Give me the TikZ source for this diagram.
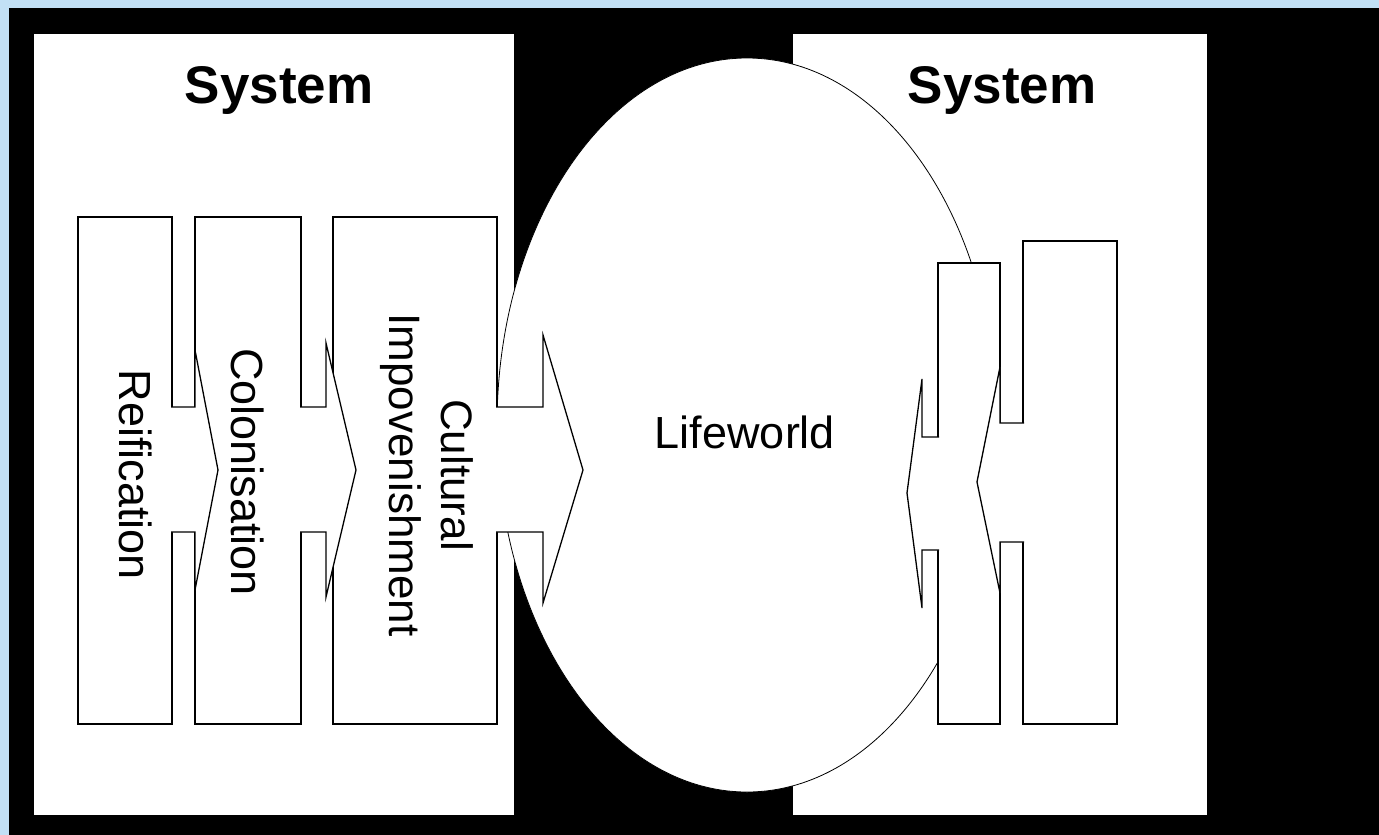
\documentclass[tikz,border=0pt]{standalone}
\usepackage{fontspec}
\setmainfont{Liberation Sans}
\usepackage{tikz}
\definecolor{skyblue}{rgb}{0.76, 0.88, 0.96}

\begin{document}
\begin{tikzpicture}[x=1pt, y=-1pt,
		bar/.style={draw=black, fill=white, line width=1.5pt},
		blockarrow/.style={draw=black, fill=white, line width=1.3pt, line join=miter},
		txt/.style={font=\fontsize{45}{52}\selectfont, align=center, inner sep=0pt},
		systxt/.style={font=\fontsize{53}{60}\selectfont\bfseries, inner sep=0pt}]
		  % frame and background
		  \fill[skyblue] (0,0) rectangle (1379,835);
		  \fill[black] (9,8) rectangle (1379,835);
		  \useasboundingbox (0,0) rectangle (1379,835);
		  % the two systems
		  \fill[white] (34,34) rectangle (514,815);
		  \fill[white] (793,34) rectangle (1207,815);
		  % lifeworld
		  \draw[fill=white, line width=0.8pt] (747,425) ellipse (250pt and 367pt);
		  % loops over the bars
		  \foreach \xl/\yt/\xr in {78/217/172, 195/217/301, 333/217/497, 938/263/1000, 1023/241/1117}{
		    \draw[bar] (\xl,\yt) rectangle (\xr,724);
		  }
		  % loops over the block arrows: bar edge, head base, tip x, shaft top/bottom, head top/bottom, tip y
		  \foreach \xa/\xo/\tx/\sa/\sb/\ha/\hb/\ty in {171/195/218/407/532/350/590/470,
		      300/326/356/407/532/343/597/470, 496/543/583/407/532/335/603/470,
		      939/922/907/437/550/379/608/493, 1024/1000/977/423/542/367/593/482}{
		    \filldraw[blockarrow] (\xa,\sa) -- (\xo,\sa) -- (\xo,\ha) -- (\tx,\ty) -- (\xo,\hb) -- (\xo,\sb) -- (\xa,\sb);
		  }
		  % texts
		  \node[systxt] (sysleft) at (279,90) {System};
		  \node[systxt] (sysright) at (1002,90) {System};
		  \node[txt] (life) at (745,432) {Lifeworld};
		  \node[txt, rotate=-90] (reif) at (136,475) {Reification};
		  \node[txt, rotate=-90] (colon) at (248,472) {Colonisation};
		  \node[txt, rotate=-90, font=\fontsize{44}{52}\selectfont] (cult) at (427,475) {Cultural\\Impovenishment};
	  \end{tikzpicture}
\end{document}
